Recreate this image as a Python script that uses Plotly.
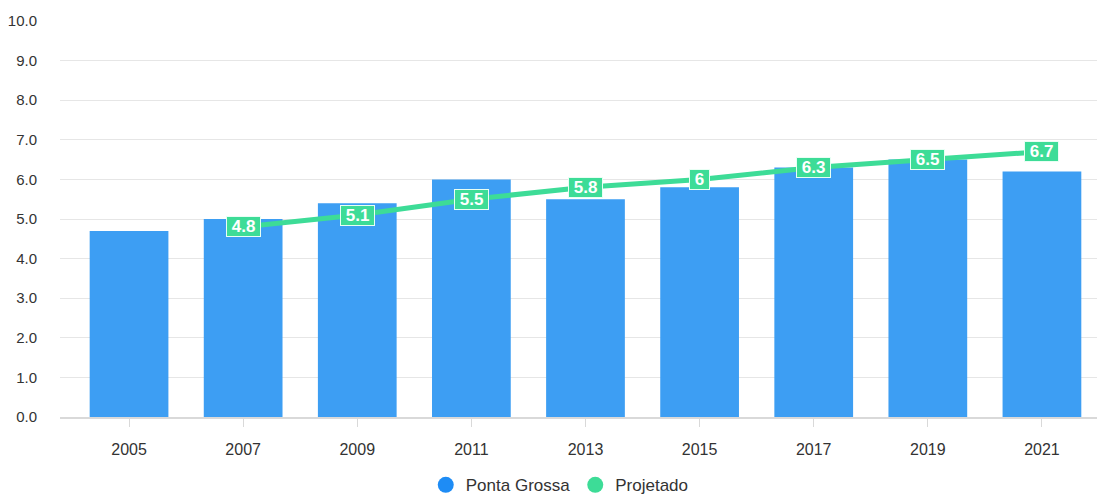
import plotly.graph_objects as go

years = [2005, 2007, 2009, 2011, 2013, 2015, 2017, 2019, 2021]
ponta_grossa = [4.7, 5.0, 5.4, 6.0, 5.5, 5.8, 6.3, 6.5, 6.2]
projetado = [None, 4.8, 5.1, 5.5, 5.8, 6.0, 6.3, 6.5, 6.7]
projetado_labels = [None, "4.8", "5.1", "5.5", "5.8", "6", "6.3", "6.5", "6.7"]
y_ticks = [0, 1, 2, 3, 4, 5, 6, 7, 8, 9, 10]

BAR = "#3d9ef3"
LINE = "#3ddc97"
LEG_BAR = "#1e8cf5"
FONT = "Arial, Liberation Sans, sans-serif"

fig = go.Figure()
fig.add_trace(go.Bar(
    x=years, y=ponta_grossa, name="Ponta Grossa",
    marker=dict(color=BAR, line=dict(width=0)),
    width=1.38, showlegend=False,
))
fig.add_trace(go.Scatter(
    x=years, y=projetado, name="Projetado", mode="lines",
    line=dict(color=LINE, width=5), showlegend=False,
))
# legend entries with circular swatches
fig.add_trace(go.Scatter(
    x=[None], y=[None], name="Ponta Grossa", mode="markers",
    marker=dict(color=LEG_BAR, size=19, symbol="circle"),
))
fig.add_trace(go.Scatter(
    x=[None], y=[None], name="Projetado", mode="markers",
    marker=dict(color=LINE, size=19, symbol="circle"),
))

for yr, v, lab in zip(years, projetado, projetado_labels):
    if v is None:
        continue
    fig.add_annotation(
        x=yr, y=v, text=f"<b>&nbsp;{lab}&nbsp;</b>", showarrow=False,
        font=dict(family=FONT, size=17, color="white"),
        bgcolor=LINE, bordercolor="#e8fff4", borderwidth=1, borderpad=0,
    )

fig.update_layout(
    width=1097, height=488,
    paper_bgcolor="white", plot_bgcolor="white",
    margin=dict(l=52, r=6, t=13, b=79, autoexpand=False),
    font=dict(family=FONT, size=15, color="#333333"),
    legend=dict(orientation="h", x=0.481, xanchor="center",
                yref="container", y=0.022, yanchor="middle",
                font=dict(size=17, color="#333333"), itemwidth=30,
                tracegroupgap=0),
    showlegend=True,
    xaxis=dict(range=[2003.79, 2022.0], tickvals=years,
               ticktext=[str(y) for y in years],
               showgrid=False, showline=True, zeroline=False,
               linecolor="#d9d9d9", linewidth=2,
               ticks="outside", tickcolor="#d9d9d9", ticklen=8,
               ticklabelstandoff=9,
               tickfont=dict(size=16, color="#333333")),
    yaxis=dict(range=[0, 10], tickvals=y_ticks,
               ticktext=[f"{t:.1f}" for t in y_ticks],
               showgrid=True, gridcolor="#e6e6e6", gridwidth=1,
               zeroline=False, ticks="", ticklabelstandoff=22,
               tickfont=dict(size=15, color="#333333")),
)

fig.write_html("out.html")
